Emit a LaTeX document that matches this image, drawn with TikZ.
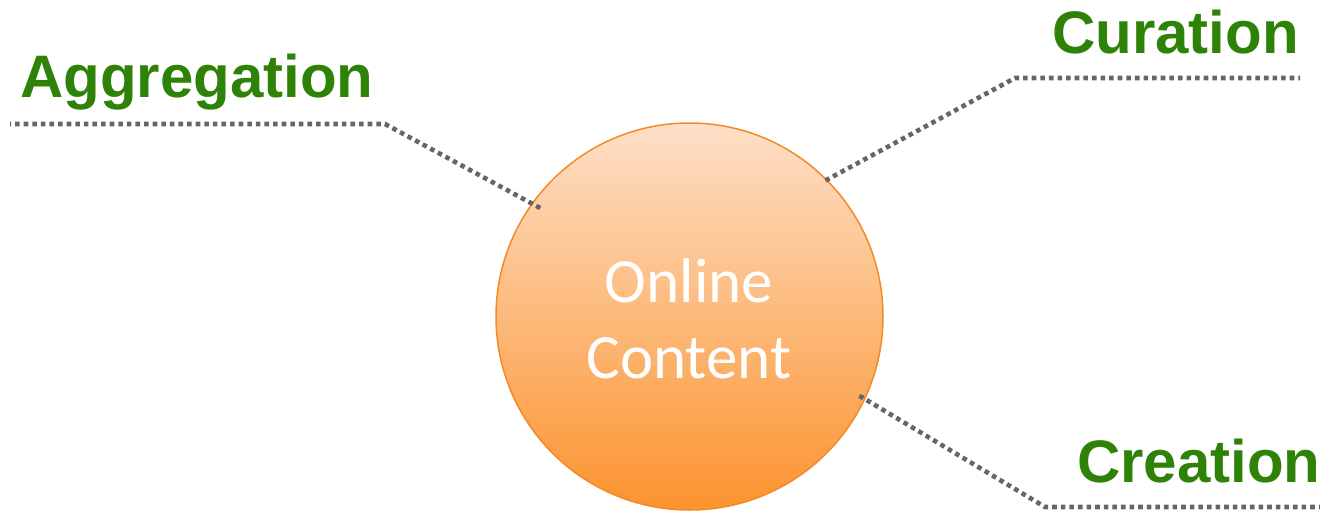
\documentclass[tikz,border=0pt]{standalone}
\usepackage{fontspec}
\usetikzlibrary{calc}
\setmainfont{Liberation Sans}
\newfontfamily\carl{Carlito}
\definecolor{lblgreen}{HTML}{2F8208}
\definecolor{dotgray}{HTML}{666666}
\definecolor{peachtop}{HTML}{FDE0C8}
\definecolor{peachbot}{HTML}{FC932E}
\definecolor{ringorange}{HTML}{F28A2A}
\tikzset{
  lbl/.style={anchor=base west, inner sep=0pt, text=lblgreen, font=\fontsize{60}{72}\selectfont\bfseries},
  leader/.style={draw=dotgray, line width=4.6pt, dash pattern=on 4.6pt off 4pt},
  hub/.style={circle, minimum size=387pt, inner sep=0pt, draw=ringorange, line width=1.5pt, top color=peachtop, bottom color=peachbot},
  hubtext/.style={anchor=base, inner sep=0pt, text=white, font=\carl\fontsize{63}{76}\selectfont}
}
\begin{document}
\begin{tikzpicture}[x=1pt,y=-1pt]
\useasboundingbox (0,0) rectangle (1320,512);
\node[hub] (oc) at (689.5,316.5) {};
\node[hubtext] (l1) at (689,302) {Online};
\node[hubtext] (l2) at (689,378) {Content};
\node[lbl] (agg) at (20,97) {Aggregation};
\node[lbl] (cur) at (1052,53) {Curation};
\node[lbl] (cre) at (1077,482) {Creation};
\coordinate (aggk) at (385,124);
\coordinate (agge) at (10,124);
\coordinate (curk) at (1015,78);
\coordinate (cure) at (1300,78);
\coordinate (crek) at (1045,507);
\coordinate (cree) at (1325,507);
\draw[leader] ($(oc.center)!0.95!(oc.144)$) -- (aggk) -- (agge);
\draw[leader] ($(oc.center)!0.99!(oc.45)$) -- (curk) -- (cure);
\draw[leader] ($(oc.center)!0.965!(oc.-25)$) -- (crek) -- (cree);
\end{tikzpicture}
\end{document}
